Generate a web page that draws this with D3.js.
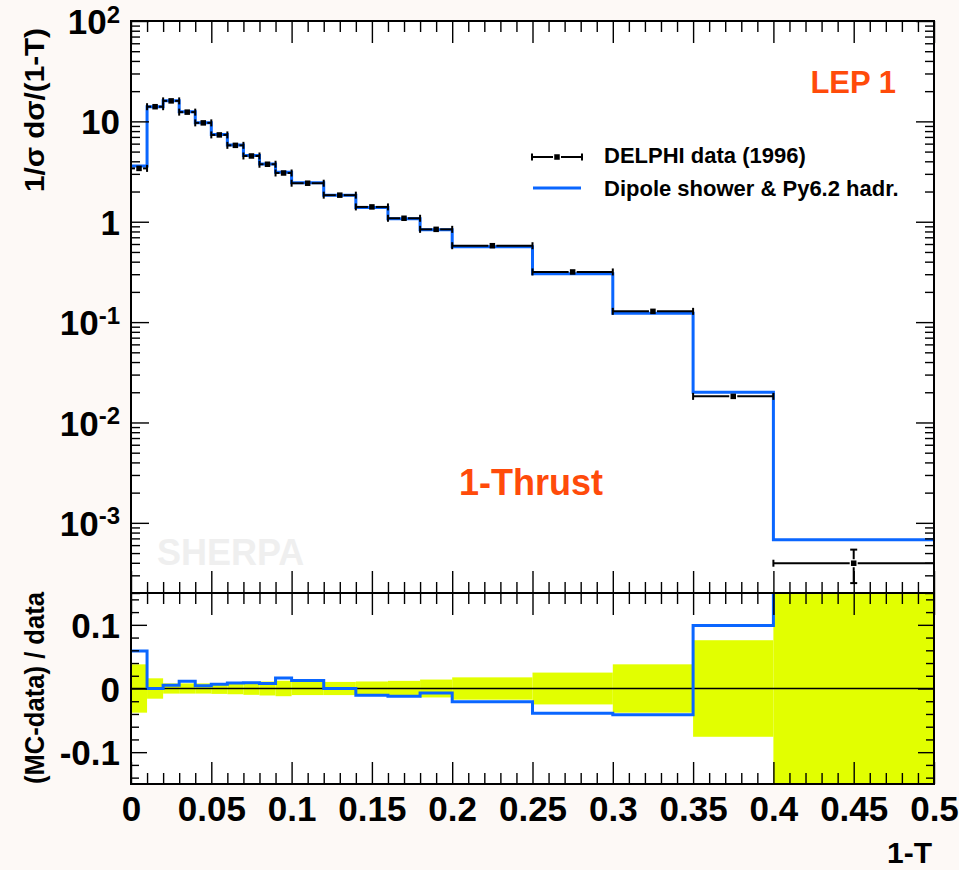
<!DOCTYPE html>
<html>
<head>
<meta charset="utf-8">
<script src="https://cdn.jsdelivr.net/npm/d3@7"></script>
<style>
  html, body { margin: 0; padding: 0; background: #fdf9f6; }
  svg { display: block; }
  text { font-family: "Liberation Sans", Arial, Helvetica, sans-serif; font-weight: bold; }
</style>
</head>
<body>
<svg id="chart" width="959" height="870"></svg>
<script>
// 1-Thrust distribution at LEP 1: bin edges in 1-T
const binEdges = [0, 0.01, 0.02, 0.03, 0.04, 0.05, 0.06, 0.07, 0.08, 0.09, 0.10,
                  0.12, 0.14, 0.16, 0.18, 0.20, 0.25, 0.30, 0.35, 0.40, 0.50];

// DELPHI data (1996): 1/sigma dsigma/d(1-T) and its uncertainty
const dataValues = [3.40, 14.0, 16.0, 12.36, 9.66, 7.33, 5.77, 4.52, 3.74, 3.06,
                    2.42, 1.84, 1.405, 1.083, 0.840, 0.577, 0.316, 0.128, 0.0182, 3.96e-4];
const dataErrors = [0.129, 0.224, 0.128, 0.099, 0.077, 0.062, 0.052, 0.045, 0.041, 0.037,
                    0.025, 0.019, 0.0155, 0.013, 0.0118, 0.0101, 0.0079, 0.00486, 0.00138, 1.45e-4];

// Dipole shower & Py6.2 hadronisation prediction
const mcValues = [3.60, 14.0, 16.08, 12.50, 9.70, 7.38, 5.82, 4.56, 3.77, 3.11,
                  2.45, 1.84, 1.39, 1.07, 0.834, 0.565, 0.3037, 0.1227, 0.0200, 6.77e-4];

// Axis ticks and labels
const xMajorTicks = [0, 0.05, 0.1, 0.15, 0.2, 0.25, 0.3, 0.35, 0.4, 0.45, 0.5];
const xTickLabels = ["0", "0.05", "0.1", "0.15", "0.2", "0.25", "0.3", "0.35", "0.4", "0.45", "0.5"];
const yUpperTicks = [1e-3, 1e-2, 1e-1, 1, 10, 100];
const yUpperLabels = [["10", "-3"], ["10", "-2"], ["10", "-1"], ["1", ""], ["10", ""], ["10", "2"]];
const yLowerTicks = [-0.1, 0, 0.1];
const yLowerLabels = ["-0.1", "0", "0.1"];

const legendLabels = ["DELPHI data (1996)", "Dipole shower & Py6.2 hadr."];

// ---- layout
const L = 131, R = 934, T = 21, MID = 593, B = 784;
const BLUE = "#0a66ff", ORANGE = "#ff4b0a", BAND = "#e2ff00";

const svg = d3.select("#chart");

const x = d3.scaleLinear().domain([0, 0.5]).range([L, R]);
const yU = d3.scaleLog().domain([2e-4, 100]).range([MID, T]);
const yL = d3.scaleLinear().domain([-0.15, 0.15]).range([B, MID]);

// panel backgrounds
svg.append("rect").attr("x", L).attr("y", T).attr("width", R - L).attr("height", B - T).attr("fill", "#fff");

// watermark
svg.append("text").attr("x", 157).attr("y", 565).attr("font-size", 36)
  .attr("fill", "#efefef").text("SHERPA");

const defs = svg.append("defs");
defs.append("clipPath").attr("id", "clipLower")
  .append("rect").attr("x", L).attr("y", MID).attr("width", R - L).attr("height", B - MID);
defs.append("clipPath").attr("id", "clipUpper")
  .append("rect").attr("x", L).attr("y", T).attr("width", R - L).attr("height", MID - T);

const bins = binEdges.slice(0, -1).map((lo, i) => ({
  lo, hi: binEdges[i + 1],
  data: dataValues[i], err: dataErrors[i], mc: mcValues[i],
  ratio: (mcValues[i] - dataValues[i]) / dataValues[i],
  rel: dataErrors[i] / dataValues[i]
}));

// ---- lower panel: uncertainty band, zero line, ratio
const lower = svg.append("g").attr("clip-path", "url(#clipLower)");
lower.selectAll("rect.band").data(bins).join("rect")
  .attr("class", "band")
  .attr("x", d => x(d.lo)).attr("width", d => x(d.hi) - x(d.lo))
  .attr("y", d => yL(d.rel)).attr("height", d => yL(-d.rel) - yL(d.rel))
  .attr("fill", BAND);

lower.append("line").attr("x1", L).attr("x2", R).attr("y1", yL(0)).attr("y2", yL(0))
  .attr("stroke", "#000").attr("stroke-width", 1.5);

const stepPts = accessor => bins.map(d => [d.lo, accessor(d)]).concat([[bins[bins.length - 1].hi, accessor(bins[bins.length - 1])]]);

lower.append("path")
  .attr("d", d3.line().x(p => x(p[0])).y(p => yL(p[1])).curve(d3.curveStepAfter)(stepPts(d => d.ratio)))
  .attr("fill", "none").attr("stroke", BLUE).attr("stroke-width", 3);

// ---- upper panel: MC histogram and data points
const upper = svg.append("g").attr("clip-path", "url(#clipUpper)");

upper.append("path")
  .attr("d", d3.line().x(p => x(p[0])).y(p => yU(p[1])).curve(d3.curveStepAfter)(stepPts(d => d.mc)))
  .attr("fill", "none").attr("stroke", BLUE).attr("stroke-width", 3);

const gap = 4, cap = 3.5, ms = 5.5;
const pts = upper.selectAll("g.pt").data(bins).join("g").attr("class", "pt")
  .attr("stroke", "#000").attr("stroke-width", 2);
pts.each(function (d) {
  const g = d3.select(this);
  const x0 = x(d.lo), x1 = x(d.hi), cx = x((d.lo + d.hi) / 2), cy = yU(d.data);
  g.append("line").attr("x1", x0).attr("x2", cx - gap).attr("y1", cy).attr("y2", cy);
  g.append("line").attr("x1", cx + gap).attr("x2", x1).attr("y1", cy).attr("y2", cy);
  g.append("line").attr("x1", x0).attr("x2", x0).attr("y1", cy - cap).attr("y2", cy + cap);
  g.append("line").attr("x1", x1).attr("x2", x1).attr("y1", cy - cap).attr("y2", cy + cap);
  const yt = yU(d.data + d.err), yb = yU(d.data - d.err);
  if (yb - yt > 2 * gap) {
    g.append("line").attr("x1", cx).attr("x2", cx).attr("y1", yt).attr("y2", cy - gap);
    g.append("line").attr("x1", cx).attr("x2", cx).attr("y1", cy + gap).attr("y2", yb);
    g.append("line").attr("x1", cx - cap).attr("x2", cx + cap).attr("y1", yt).attr("y2", yt);
    g.append("line").attr("x1", cx - cap).attr("x2", cx + cap).attr("y1", yb).attr("y2", yb);
  }
  g.append("rect").attr("x", cx - ms / 2).attr("y", cy - ms / 2).attr("width", ms).attr("height", ms)
    .attr("fill", "#000").attr("stroke", "none");
});

// ---- axes (ticks point inwards on every side)
const xMinor = d3.range(0, 51).map(i => i / 100).filter(v => Math.abs(v * 20 - Math.round(v * 20)) > 1e-6);
const logMinor = [];
for (let e = -4; e <= 1; e++) for (let m = 2; m <= 9; m++) {
  const v = m * Math.pow(10, e);
  if (v >= 2e-4 && v <= 100) logMinor.push(v);
}
const linMinor = d3.range(-7, 8).map(i => i * 0.02).filter(v => Math.abs(v * 10 - Math.round(v * 10)) > 1e-6);

function drawAxis(axis, tx, ty, withLabels) {
  const g = svg.append("g").attr("transform", `translate(${tx},${ty})`).call(axis);
  g.select(".domain").remove();
  g.selectAll(".tick line").attr("stroke", "#000").attr("stroke-width", 1.4);
  if (!withLabels) g.selectAll(".tick text").remove();
  g.attr("font-family", null).attr("font-size", null);
  return g;
}

// x axes
[[d3.axisTop, T], [d3.axisBottom, MID], [d3.axisTop, MID], [d3.axisBottom, B]].forEach(([ax, yy], k) => {
  drawAxis(ax(x).tickValues(xMinor).tickSize(-11).tickFormat(""), 0, yy, false);
  const g = drawAxis(ax(x).tickValues(xMajorTicks).tickSize(-22).tickPadding(12)
    .tickFormat((v, i) => xTickLabels[i]), 0, yy, k === 3);
  if (k === 3) g.selectAll(".tick text").attr("font-size", 35).attr("fill", "#000");
});

// upper y axes
drawAxis(d3.axisLeft(yU).tickValues(logMinor).tickSize(-9).tickFormat(""), L, 0, false);
drawAxis(d3.axisRight(yU).tickValues(logMinor).tickSize(-9).tickFormat(""), R, 0, false);
drawAxis(d3.axisRight(yU).tickValues(yUpperTicks).tickSize(-18).tickFormat(""), R, 0, false);
const gYU = drawAxis(d3.axisLeft(yU).tickValues(yUpperTicks).tickSize(-18).tickPadding(11)
  .tickFormat(""), L, 0, true);
gYU.selectAll(".tick text").each(function (v, i) {
  const t = d3.select(this).attr("font-size", 35).attr("fill", "#000").attr("dy", "0.36em");
  const lab = yUpperLabels[i];
  t.text(null);
  t.append("tspan").text(lab[0]);
  if (lab[1]) t.append("tspan").attr("font-size", 24).attr("dy", "-0.48em").text(lab[1]);
});

// lower y axes
drawAxis(d3.axisLeft(yL).tickValues(linMinor).tickSize(-8).tickFormat(""), L, 0, false);
drawAxis(d3.axisRight(yL).tickValues(linMinor).tickSize(-8).tickFormat(""), R, 0, false);
drawAxis(d3.axisRight(yL).tickValues(yLowerTicks).tickSize(-16).tickFormat(""), R, 0, false);
const gYL = drawAxis(d3.axisLeft(yL).tickValues(yLowerTicks).tickSize(-16).tickPadding(11)
  .tickFormat((v, i) => yLowerLabels[i]), L, 0, true);
gYL.selectAll(".tick text").attr("font-size", 35).attr("fill", "#000").attr("dy", "0.36em");

// frames
svg.append("rect").attr("x", L).attr("y", T).attr("width", R - L).attr("height", MID - T)
  .attr("fill", "none").attr("stroke", "#000").attr("stroke-width", 2);
svg.append("rect").attr("x", L).attr("y", MID).attr("width", R - L).attr("height", B - MID)
  .attr("fill", "none").attr("stroke", "#000").attr("stroke-width", 2);

// ---- titles and annotations
svg.append("text").attr("transform", "translate(44,28) rotate(-90)")
  .attr("text-anchor", "end").attr("font-size", 28)
  .attr("textLength", 164).attr("lengthAdjust", "spacingAndGlyphs")
  .text("1/σ dσ/(1-T)");
svg.append("text").attr("transform", "translate(44,592) rotate(-90)")
  .attr("text-anchor", "end").attr("font-size", 28)
  .attr("textLength", 192).attr("lengthAdjust", "spacingAndGlyphs")
  .text("(MC-data) / data");
svg.append("text").attr("x", 932).attr("y", 863).attr("text-anchor", "end")
  .attr("font-size", 30).text("1-T");

svg.append("text").attr("x", 896).attr("y", 93).attr("text-anchor", "end")
  .attr("font-size", 31).attr("fill", ORANGE).text("LEP 1");
svg.append("text").attr("x", 459).attr("y", 495)
  .attr("font-size", 36).attr("fill", ORANGE).text("1-Thrust");

// ---- legend
const lg = svg.append("g");
const ly1 = 157, ly2 = 188, lx0 = 532, lx1 = 582, lxc = (lx0 + lx1) / 2;
const lgData = lg.append("g").attr("stroke", "#000").attr("stroke-width", 2);
lgData.append("line").attr("x1", lx0).attr("x2", lxc - gap).attr("y1", ly1).attr("y2", ly1);
lgData.append("line").attr("x1", lxc + gap).attr("x2", lx1).attr("y1", ly1).attr("y2", ly1);
lgData.append("line").attr("x1", lx0).attr("x2", lx0).attr("y1", ly1 - cap).attr("y2", ly1 + cap);
lgData.append("line").attr("x1", lx1).attr("x2", lx1).attr("y1", ly1 - cap).attr("y2", ly1 + cap);
lgData.append("rect").attr("x", lxc - ms / 2).attr("y", ly1 - ms / 2).attr("width", ms).attr("height", ms)
  .attr("fill", "#000").attr("stroke", "none");
lg.append("line").attr("x1", lx0 + 1).attr("x2", lx1 - 1).attr("y1", ly2).attr("y2", ly2)
  .attr("stroke", BLUE).attr("stroke-width", 3);
lg.selectAll("text").data(legendLabels).join("text")
  .attr("x", 604).attr("y", (d, i) => [163, 196][i]).attr("font-size", 22).text(d => d);
</script>
</body>
</html>
